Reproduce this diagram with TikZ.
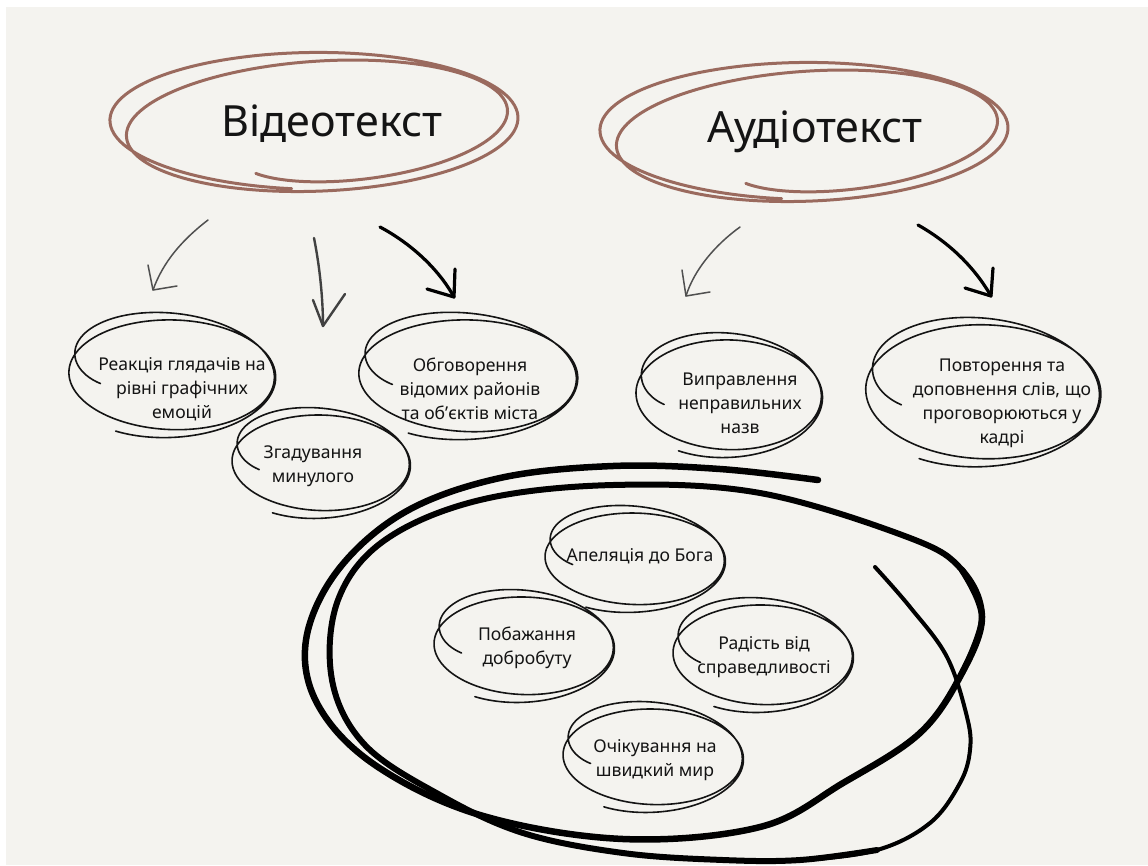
\documentclass[tikz,border=0pt]{standalone}
\usepackage{fontspec}
\setmainfont{Noto Sans}
\definecolor{bgc}{RGB}{244,243,239}
\definecolor{brw}{RGB}{154,106,94}
\definecolor{ink}{RGB}{20,20,20}
\definecolor{garr}{RGB}{80,80,80}
\definecolor{garr2}{RGB}{65,65,65}
\newcommand\sdy{0}
\newcommand\sdx{0}
\newcommand\sgr{0.05}
\newcommand\samp{0.3}
\newcommand\srate{18}
% #1 cx, #2 cy, #3 a, #4 b, #5 theta0, #6 theta1, #7 phi0, #8 phi1, #9 style
\newcommand\scrib[9]{%
  \draw[#9] plot[domain=0:1, samples=240, smooth, variable=\qq]
  ({#1 + \sdx*(\qq-0.5) + sr(\qq)*((#3)*cos((#5)+((#6)-(#5))*\qq)*cos((#7)+((#8)-(#7))*\qq) - (#4)*sin((#5)+((#6)-(#5))*\qq)*sin((#7)+((#8)-(#7))*\qq))},
   {#2 + \sdy*(\qq-0.5) + sr(\qq)*((#3)*cos((#5)+((#6)-(#5))*\qq)*sin((#7)+((#8)-(#7))*\qq) + (#4)*sin((#5)+((#6)-(#5))*\qq)*cos((#7)+((#8)-(#7))*\qq))});%
}
\begin{document}
\begin{tikzpicture}[x=1pt,y=-1pt,
  declare function={sr(\qa)=1-\samp*exp(-\srate*\qa)+\sgr*\qa;},
  lbl/.style={align=center, text=ink, font=\fontsize{17.6}{24}\selectfont, inner sep=0pt},
  ttl/.style={text=ink, font=\fontsize{43}{50}\selectfont, inner sep=0pt},
  loopk/.style={line width=1.6pt, draw=ink, line cap=round, line join=round},
  loopb/.style={line width=3pt, draw=brw, line cap=round, line join=round},
  arrthin/.style={line width=1.5pt, draw=garr, line cap=round, line join=round},
  arrmid/.style={line width=2.4pt, draw=garr2, line cap=round, line join=round},
  arrbold/.style={line width=3.2pt, draw=black, line cap=round, line join=round},
  big/.style={draw=black, line cap=round, line join=round}]
\useasboundingbox (0,0) rectangle (1148,865);
\fill[white] (0,0) rectangle (1148,865);
\fill[bgc] (6,7) rectangle (1148,865);

% titles
\node[ttl] (video) at (332,124) {Відеотекст};
\node[ttl] (audio) at (815,132) {Аудіотекст};
\renewcommand\sdy{-10}\renewcommand\sdx{-14}\renewcommand\sgr{0.1}
\renewcommand\samp{0.3}\renewcommand\srate{12}
\scrib{320}{124}{188}{64}{125}{-625}{-6}{1}{loopb}
\scrib{810}{134}{188}{64}{125}{-625}{-6}{1}{loopb}

% labels
\node[lbl] (react) at (182,389) {Реакція глядачів на\\рівні графічних\\емоцій};
\node[lbl] (zgad) at (313,466) {Згадування\\минулого};
\node[lbl] (obgov) at (470,389) {Обговорення\\відомих районів\\та об'єктів міста};
\node[lbl] (vypr) at (740,403) {Виправлення\\неправильних\\назв};
\node[lbl] (povt) at (1002,403) {Повторення та\\доповнення слів, що\\проговорюються у\\кадрі};
\node[lbl] (apel) at (640,556) {Апеляція до Бога};
\node[lbl] (pobazh) at (527,648) {Побажання\\добробуту};
\node[lbl] (radist) at (764,657) {Радість від\\справедливості};
\node[lbl] (ochik) at (655,760) {Очікування на\\швидкий мир};

% small scribbles
\renewcommand\sdy{14}\renewcommand\sdx{0}\renewcommand\sgr{0.02}
\renewcommand\samp{0.18}\renewcommand\srate{30}
\scrib{172}{374}{102}{56}{145}{845}{8}{-3}{loopk}
\scrib{321}{462}{88}{49}{145}{845}{8}{-3}{loopk}
\scrib{468}{375}{108}{57}{145}{845}{8}{-3}{loopk}
\scrib{729}{394}{92}{56}{145}{845}{8}{-3}{loopk}
\scrib{983}{391}{116}{68}{145}{845}{8}{-3}{loopk}
\scrib{635}{558}{89}{47}{145}{845}{8}{-3}{loopk}
\scrib{524}{645}{89}{50}{145}{845}{8}{-3}{loopk}
\scrib{763}{654}{89}{51}{145}{845}{8}{-3}{loopk}
\scrib{653}{756}{89}{49}{145}{845}{8}{-3}{loopk}

% big loop
\draw[big, line width=6.5pt] plot[smooth, tension=0.6] coordinates {(818,480) (720,469) (613,466) (500,478) (405,512) (338,570) (306,640) (318,705) (375,765) (480,815) (623,839) (760,827) (843,783) (920,733) (962,673) (982,617) (962,570)};
\draw[big, line width=6pt] plot[smooth, tension=0.6] coordinates {(962,673) (982,617) (962,570) (910,538) (760,493) (613,485) (480,500) (385,540) (338,600) (332,680) (365,745) (440,795) (523,833) (623,853) (723,860) (800,860) (877,850)};
\draw[big, line width=4pt] plot[smooth, tension=0.6] coordinates {(723,860) (800,860) (877,850) (930,823) (960,783) (970,750) (967,717) (947,657) (910,607) (875,567)};

% arrows
\coordinate (a1s) at (208,220); \coordinate (a1e) at (153,290);
\coordinate (a2s) at (314,238); \coordinate (a2e) at (323,326);
\coordinate (a3s) at (380,227); \coordinate (a3e) at (454,297);
\coordinate (a4s) at (740,227); \coordinate (a4e) at (686,296);
\coordinate (a5s) at (918,225); \coordinate (a5e) at (991,296);
\draw[arrthin] (a1s) .. controls (182,240) and (163,262) .. (a1e);
\draw[arrthin] (a1e) ++(-5,-25) -- (a1e) -- ++(24,-4);
\draw[arrmid] (a2s) .. controls (320,268) and (323,300) .. (a2e);
\draw[arrmid] (a2e) ++(-10,-26) -- (a2e) -- ++(22,-32);
\draw[arrbold] (a3s) .. controls (410,243) and (438,268) .. (a3e);
\draw[arrbold] (a3e) ++(-27,-8) -- (a3e) -- ++(1,-28);
\draw[arrthin] (a4s) .. controls (715,245) and (694,270) .. (a4e);
\draw[arrthin] (a4e) ++(-4,-26) -- (a4e) -- ++(24,-4);
\draw[arrbold] (a5s) .. controls (950,243) and (975,268) .. (a5e);
\draw[arrbold] (a5e) ++(-26,-8) -- (a5e) -- ++(2,-28);
\end{tikzpicture}
\end{document}
